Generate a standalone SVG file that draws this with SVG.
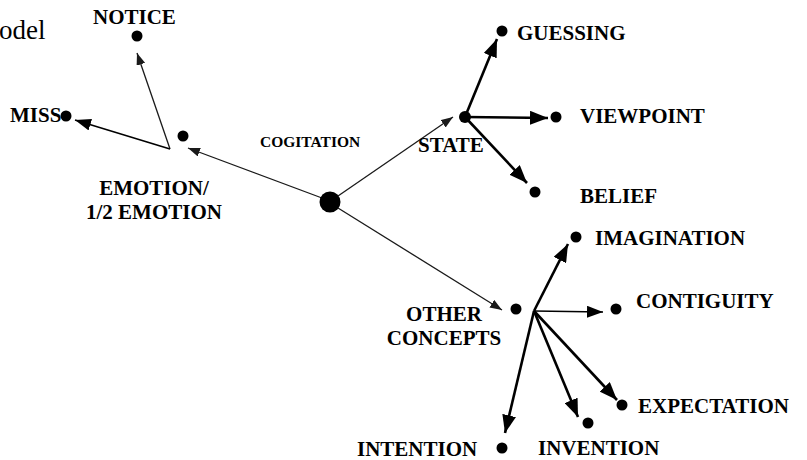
<svg xmlns="http://www.w3.org/2000/svg" width="807" height="460" viewBox="0 0 807 460">
  <defs>
    <marker id="ah-s" markerUnits="userSpaceOnUse" markerWidth="13" markerHeight="9" refX="12" refY="4.5" orient="auto">
      <path d="M0,0 L12,4.5 L0,9 z" fill="#1a1a1a"/>
    </marker>
    <marker id="ah-m" markerUnits="userSpaceOnUse" markerWidth="17" markerHeight="12" refX="16" refY="6" orient="auto">
      <path d="M0,0 L16,6 L0,12 z" fill="#000"/>
    </marker>
    <marker id="ah-l" markerUnits="userSpaceOnUse" markerWidth="19" markerHeight="14" refX="18" refY="7" orient="auto">
      <path d="M0,0 L18,7 L0,14 z" fill="#000"/>
    </marker>
  </defs>
  <style>
    .lbl { font-family: "Liberation Serif", "Times New Roman", serif; font-weight: bold; font-size: 21px; fill: #000; }
    .small { font-size: 15.5px; }
    .thin { stroke: #1a1a1a; stroke-width: 1.3; fill: none; marker-end: url(#ah-s); }
    .mid { stroke: #000; stroke-width: 1.6; fill: none; marker-end: url(#ah-m); }
    .thick { stroke: #000; stroke-width: 2.6; fill: none; marker-end: url(#ah-l); }
    .dot { fill: #000; }
  </style>
  <rect width="807" height="460" fill="#fff"/>

  <text x="-1" y="39" font-family="'Liberation Serif', 'Times New Roman', serif" font-size="27" fill="#000">odel</text>

  <g id="connectors">
    <line class="thin" x1="322" y1="198" x2="188" y2="148"/>
    <line class="thin" x1="338" y1="196" x2="453" y2="117"/>
    <line class="thin" x1="338" y1="208" x2="502" y2="310"/>
    <line class="thin" x1="170" y1="149" x2="137" y2="53"/>
    <line class="mid" x1="170" y1="149" x2="75" y2="120"/>
    <line class="thick" x1="465" y1="117" x2="497" y2="39"/>
    <line class="thick" x1="465" y1="117" x2="548" y2="118"/>
    <line class="thick" x1="465" y1="117" x2="527" y2="183"/>
    <line class="thick" x1="534" y1="311" x2="568" y2="244"/>
    <line class="mid" x1="534" y1="311" x2="603" y2="312"/>
    <line class="thick" x1="534" y1="311" x2="617" y2="400"/>
    <line class="thick" x1="534" y1="311" x2="578" y2="417"/>
    <line class="thick" x1="534" y1="311" x2="505" y2="433"/>
  </g>

  <g id="cogitation">
    <circle class="dot" cx="330" cy="202" r="10.5"/>
    <text class="lbl small" x="260" y="147">COGITATION</text>
  </g>
  <g id="emotion">
    <circle class="dot" cx="183" cy="136" r="5.5"/>
    <text class="lbl" x="154" y="195" text-anchor="middle">EMOTION/</text>
    <text class="lbl" x="154" y="219" text-anchor="middle">1/2 EMOTION</text>
  </g>
  <g id="notice">
    <circle class="dot" cx="137" cy="36" r="5.5"/>
    <text class="lbl" x="93" y="24">NOTICE</text>
  </g>
  <g id="miss">
    <circle class="dot" cx="66" cy="116" r="5.5"/>
    <text class="lbl" x="10" y="122">MISS</text>
  </g>
  <g id="state">
    <circle class="dot" cx="465" cy="117" r="6"/>
    <text class="lbl" x="418" y="152">STATE</text>
  </g>
  <g id="guessing">
    <circle class="dot" cx="502" cy="31" r="5.5"/>
    <text class="lbl" x="517" y="40">GUESSING</text>
  </g>
  <g id="viewpoint">
    <circle class="dot" cx="556" cy="117" r="5.5"/>
    <text class="lbl" x="580" y="123">VIEWPOINT</text>
  </g>
  <g id="belief">
    <circle class="dot" cx="535" cy="192" r="5.5"/>
    <text class="lbl" x="580" y="203">BELIEF</text>
  </g>
  <g id="other-concepts">
    <circle class="dot" cx="516" cy="309" r="5.5"/>
    <text class="lbl" x="444" y="321" text-anchor="middle">OTHER</text>
    <text class="lbl" x="444" y="345" text-anchor="middle">CONCEPTS</text>
  </g>
  <g id="imagination">
    <circle class="dot" cx="576" cy="237" r="5.5"/>
    <text class="lbl" x="595" y="245">IMAGINATION</text>
  </g>
  <g id="contiguity">
    <circle class="dot" cx="616" cy="309" r="5.5"/>
    <text class="lbl" x="636" y="308">CONTIGUITY</text>
  </g>
  <g id="expectation">
    <circle class="dot" cx="622" cy="405" r="5.5"/>
    <text class="lbl" x="638" y="413">EXPECTATION</text>
  </g>
  <g id="invention">
    <circle class="dot" cx="588" cy="423" r="5.5"/>
    <text class="lbl" x="538" y="455">INVENTION</text>
  </g>
  <g id="intention">
    <circle class="dot" cx="502" cy="448" r="5.5"/>
    <text class="lbl" x="357" y="456">INTENTION</text>
  </g>
</svg>
